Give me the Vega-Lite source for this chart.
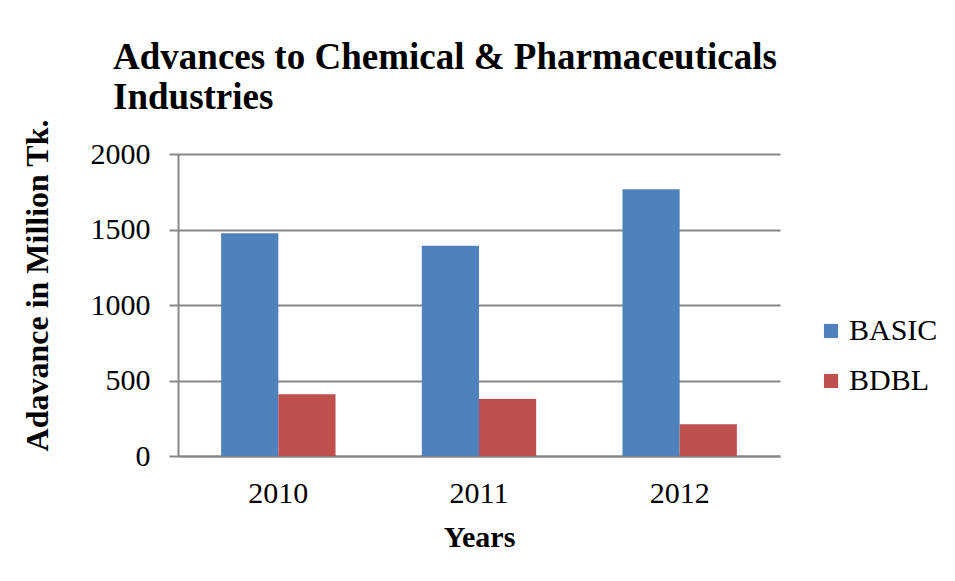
{
  "$schema": "https://vega.github.io/schema/vega-lite/v6.json",
  "autosize": {"type": "none"},
  "width": 602,
  "height": 302,
  "padding": {"left": 178, "top": 154, "right": 175, "bottom": 125},
  "background": "white",
  "title": {
    "text": ["Advances to Chemical & Pharmaceuticals", "Industries"],
    "anchor": "start",
    "frame": "group",
    "dx": -65,
    "font": "Liberation Serif",
    "fontSize": 37,
    "fontWeight": "bold",
    "color": "black",
    "lineHeight": 40,
    "offset": 2
  },
  "data": {
    "values": [
      {"year": "2010", "bank": "BASIC", "value": 1475},
      {"year": "2010", "bank": "BDBL", "value": 409},
      {"year": "2011", "bank": "BASIC", "value": 1393},
      {"year": "2011", "bank": "BDBL", "value": 377},
      {"year": "2012", "bank": "BASIC", "value": 1766},
      {"year": "2012", "bank": "BDBL", "value": 210}
    ]
  },
  "mark": {"type": "bar"},
  "encoding": {
    "x": {
      "field": "year", "type": "nominal",
      "scale": {"paddingInner": 0.43, "paddingOuter": 0.215},
      "axis": {
        "title": "Years", "labelAngle": 0, "ticks": false, "grid": false,
        "domainColor": "#878787", "domainWidth": 2,
        "labelFont": "Liberation Serif", "labelFontSize": 30, "labelColor": "black",
        "labelPadding": 22,
        "titleFont": "Liberation Serif", "titleFontSize": 30, "titleFontWeight": "bold", "titleColor": "black",
        "titlePadding": 14
      }
    },
    "xOffset": {"field": "bank", "type": "nominal"},
    "y": {
      "field": "value", "type": "quantitative",
      "scale": {"domain": [0, 2000]},
      "axis": {
        "title": "Adavance in Million Tk.",
        "values": [0, 500, 1000, 1500, 2000],
        "format": "d",
        "grid": true, "gridColor": "#878787", "gridWidth": 2,
        "domainColor": "#878787", "domainWidth": 2,
        "tickColor": "#878787", "tickWidth": 2, "tickSize": 9,
        "labelFont": "Liberation Serif", "labelFontSize": 30, "labelColor": "black",
        "labelPadding": 19,
        "titleFont": "Liberation Serif", "titleFontSize": 32, "titleFontWeight": "bold", "titleColor": "black",
        "titleAngle": -90, "titleX": -141, "titleY": 131, "titleAlign": "center", "titleBaseline": "middle"
      }
    },
    "color": {
      "field": "bank", "type": "nominal",
      "scale": {"domain": ["BASIC", "BDBL"], "range": ["#4F81BD", "#C0504D"]},
      "legend": {
        "title": null, "orient": "none", "legendX": 638, "legendY": 162,
        "symbolType": "square", "symbolSize": 200, "symbolStrokeWidth": 0,
        "labelFont": "Liberation Serif", "labelFontSize": 30, "labelColor": "black",
        "labelOffset": 3, "rowPadding": 20
      }
    }
  },
  "config": {"view": {"stroke": null}}
}
